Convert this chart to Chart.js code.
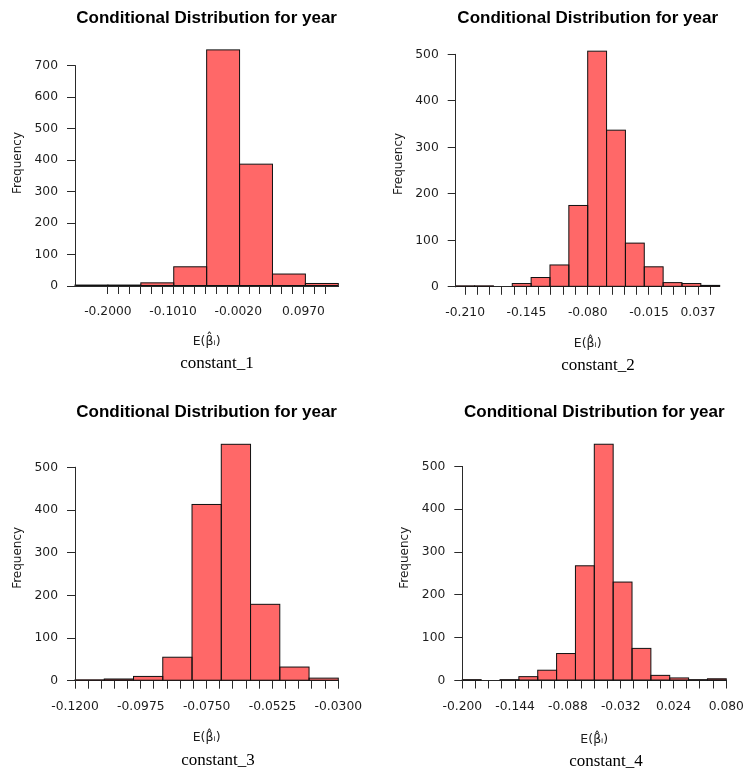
<!DOCTYPE html>
<html>
<head>
<meta charset="utf-8">
<script src="https://cdn.jsdelivr.net/npm/chart.js@4.4.1/dist/chart.umd.min.js"></script>
<style>
  html,body{margin:0;padding:0;background:#fff;}
  #wrap{position:relative;width:746px;height:771px;overflow:hidden;background:#fff;}
  #wrap canvas{position:absolute;}
  .cap{position:absolute;font-family:"Liberation Serif","Times New Roman",serif;font-size:17px;line-height:17px;color:#000;white-space:nowrap;transform:translateX(-50%);}
</style>
</head>
<body>
<div id="wrap">
  <canvas id="c1" width="373" height="385" style="left:0;top:0"></canvas>
  <canvas id="c2" width="373" height="385" style="left:373px;top:0"></canvas>
  <canvas id="c3" width="373" height="386" style="left:0;top:385px"></canvas>
  <canvas id="c4" width="373" height="386" style="left:373px;top:385px"></canvas>
  <div class="cap" style="left:217px;top:354px">constant_1</div>
  <div class="cap" style="left:598px;top:356px">constant_2</div>
  <div class="cap" style="left:218px;top:751px">constant_3</div>
  <div class="cap" style="left:606px;top:752px">constant_4</div>
</div>
<script>
// histogram breaks + counts
const breaks1 = [-0.25,-0.20,-0.15,-0.10,-0.05,0,0.05,0.10,0.15];
const counts1 = [3,3,10,61,750,387,38,8];
const xLabels1 = ["-0.2000","-0.1010","-0.0020","0.0970"];
const yTicks1 = [0,100,200,300,400,500,600,700];

const breaks2 = [-0.22,-0.20,-0.18,-0.16,-0.14,-0.12,-0.10,-0.08,-0.06,-0.04,-0.02,0,0.02,0.04,0.06];
const counts2 = [2,2,0,7,20,47,175,507,337,94,43,9,7,3];
const xLabels2 = ["-0.210","-0.145","-0.080","-0.015","0.037"];
const yTicks2 = [0,100,200,300,400,500];

const breaks3 = [-0.12,-0.11,-0.10,-0.09,-0.08,-0.07,-0.06,-0.05,-0.04,-0.03];
const counts3 = [2,4,10,55,413,554,179,32,6];
const xLabels3 = ["-0.1200","-0.0975","-0.0750","-0.0525","-0.0300"];
const yTicks3 = [0,100,200,300,400,500];

const breaks4 = [-0.20,-0.18,-0.16,-0.14,-0.12,-0.10,-0.08,-0.06,-0.04,-0.02,0,0.02,0.04,0.06,0.08];
const counts4 = [2,0,2,9,24,63,268,552,230,75,12,6,2,4];
const xLabels4 = ["-0.200","-0.144","-0.088","-0.032","0.024","0.080"];
const yTicks4 = [0,100,200,300,400,500];

const FILL = "#FF6868";
const EDGE = "#111";
const AXIS = "#2a2a2a";
const INK = "#1c1c1c";

Chart.defaults.font.family = "'DejaVu Sans', sans-serif";

// R look: bar outlines stroked on the edges, y axis line only from first to last tick
const rStyle = {
  id: "rStyle",
  afterDatasetsDraw(chart){
    const ctx = chart.ctx;
    ctx.save();
    ctx.lineWidth = 1;
    ctx.strokeStyle = EDGE;
    chart.getDatasetMeta(0).data.forEach((bar, i) => {
      if (!chart.data.datasets[0].data[i].y) return;
      const {x, y, base, width} = bar.getProps(["x","y","base","width"], true);
      ctx.strokeRect(x - width/2, y, width, base - y);
    });
    const ys = chart.scales.y;
    const ax = Math.round(chart.chartArea.left - 0.5) + 0.5;
    const t = ys.ticks;
    ctx.strokeStyle = AXIS;
    ctx.beginPath();
    ctx.moveTo(ax, ys.getPixelForValue(t[0].value) + 0.5);
    ctx.lineTo(ax, ys.getPixelForValue(t[t.length-1].value) - 0.5);
    ctx.stroke();
    ctx.restore();
  }
};

function hist(id, breaks, counts, xLabels, yTicks, ax){
  const pts = counts.map((c,i)=>({x:(breaks[i]+breaks[i+1])/2, y:c}));
  const xmin = breaks[0], xmax = breaks[breaks.length-1];
  const labelAt = v => xLabels.find(s => Math.abs(parseFloat(s)-v) < ax.step/4) || "";
  return new Chart(document.getElementById(id), {
    type: "bar",
    data: { datasets: [{
      data: pts, xAxisID: "x", yAxisID: "y",
      backgroundColor: FILL, borderWidth: 0, inflateAmount: 0,
      categoryPercentage: 1, barPercentage: 1
    }]},
    options: {
      responsive: false, animation: false, devicePixelRatio: 1,
      layout: { padding: { left: ax.left, right: ax.right, top: 0, bottom: ax.bottom } },
      plugins: {
        legend: { display: false }, tooltip: { enabled: false },
        title: {
          display: true, text: "Conditional Distribution for year", fullSize: false, color: "#000",
          font: { family: "'Liberation Sans', Arial, sans-serif", size: 17, weight: "bold", lineHeight: 1.2 },
          padding: { top: ax.tTop, bottom: ax.tBottom }
        }
      },
      scales: {
        x: { type: "linear", display: false, min: xmin, max: xmax, offset: false,
             grid: { offset: false },
             afterBuildTicks: s => { s.ticks = [{value: xmin}, {value: xmax}]; } },
        xt: { type: "linear", position: "bottom", min: xmin, max: xmax, offset: false,
              afterBuildTicks: s => {
                const t = [];
                for (let i = 0; i < ax.n; i++) t.push({value: ax.start + i*ax.step});
                s.ticks = t;
              },
              afterFit: s => { s.height = 70; },
              ticks: { autoSkip: false, maxRotation: 0, minRotation: 0, padding: 0, color: INK,
                       font: { size: 12.3, lineHeight: 2.9 }, callback: v => labelAt(v) },
              grid: { offset: false, drawOnChartArea: false, drawTicks: true, tickLength: 8, color: AXIS, lineWidth: 1 },
              border: { display: true, color: AXIS, width: 1 },
              title: { display: true, text: "E(β\u0302\u1D62)", color: INK, font: { size: 12.5 },
                       padding: { top: 0, bottom: ax.xtPad } } },
        y: { min: 0, max: ax.ymax,
             afterBuildTicks: s => { s.ticks = yTicks.map(v => ({value: v})); },
             afterFit: s => { s.width = 70; },
             ticks: { padding: 9, color: INK, font: { size: 12.3 } },
             grid: { drawOnChartArea: false, drawTicks: true, tickLength: 8, color: AXIS },
             border: { display: false },
             title: { display: true, text: "Frequency", color: INK, font: { size: 12 },
                      padding: { top: 5.5, bottom: 0 } } }
      }
    },
    plugins: [rStyle]
  });
}

hist("c1", breaks1, counts1, xLabels1, yTicks1,
  { left: 5, right: 34.7, bottom: 29, tTop: 8, tBottom: 11.6, ymax: 781.4, xtPad: 7.1,
    start: -0.2, step: 0.0165, n: 21 });
hist("c2", breaks2, counts2, xLabels2, yTicks2,
  { left: 12.7, right: 26.3, bottom: 28.2, tTop: 8.6, tBottom: 12, ymax: 528.9, xtPad: 5.3,
    start: -0.21, step: 0.013, n: 21 });
hist("c3", breaks3, counts3, xLabels3, yTicks3,
  { left: 5, right: 34.7, bottom: 20.3, tTop: 16.8, tBottom: 12.8, ymax: 575.8, xtPad: 5.2,
    start: -0.12, step: 0.0045, n: 21 });
hist("c4", breaks4, counts4, xLabels4, yTicks4,
  { left: 19.3, right: 19.7, bottom: 20.5, tTop: 16.8, tBottom: 12.8, ymax: 573.6, xtPad: 3.3,
    start: -0.2, step: 0.014, n: 21 });
</script>
</body>
</html>
